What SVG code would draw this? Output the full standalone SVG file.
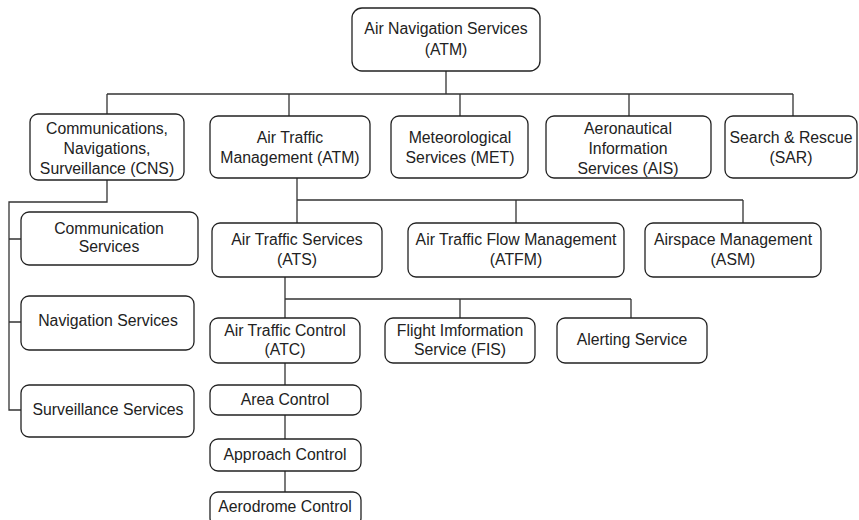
<svg xmlns="http://www.w3.org/2000/svg" width="859" height="520" viewBox="0 0 859 520">
<style>
.box{fill:#fff;stroke:#222;stroke-width:1.3}
.t{font-family:"Liberation Sans",Arial,sans-serif;font-size:15.8px;fill:#222;text-anchor:middle}
.c{fill:none;stroke:#333;stroke-width:1.3}
</style>
<rect width="859" height="520" fill="#fff"/>
<g id="connectors">
<path class="c" d="M446 71V94M107 94H793M107 94V114M289 94V116M460 94V116M629 94V116M793 94V116"/>
<path class="c" d="M107 180V202H9V410H21M9 239H21M9 322H21"/>
<path class="c" d="M297 178V200M297 200H743M297 200V223M516 200V223M743 200V223"/>
<path class="c" d="M285 277V299H631M285 299V318M460 299V318M631 299V318"/>
<path class="c" d="M285 363V385M285 415V439M285 471V492"/>
</g>
<g id="ans"><rect class="box" x="352" y="8" width="188" height="63" rx="10"/><text class="t" x="446" y="34">Air Navigation Services</text><text class="t" x="446" y="55">(ATM)</text></g>
<g id="cns"><rect class="box" x="30" y="114" width="154" height="66" rx="8"/><text class="t" x="107" y="134">Communications,</text><text class="t" x="107" y="154">Navigations,</text><text class="t" x="107" y="174">Surveillance (CNS)</text></g>
<g id="atm"><rect class="box" x="210" y="116" width="160" height="62" rx="8"/><text class="t" x="290" y="143">Air Traffic</text><text class="t" x="290" y="163">Management (ATM)</text></g>
<g id="met"><rect class="box" x="391" y="116" width="137" height="62" rx="8"/><text class="t" x="460" y="143">Meteorological</text><text class="t" x="460" y="163">Services (MET)</text></g>
<g id="ais"><rect class="box" x="546" y="116" width="165" height="62" rx="8"/><text class="t" x="628" y="134">Aeronautical</text><text class="t" x="628" y="154">Information</text><text class="t" x="628" y="174">Services (AIS)</text></g>
<g id="sar"><rect class="box" x="725" y="116" width="132" height="62" rx="8"/><text class="t" x="791" y="143">Search &amp; Rescue</text><text class="t" x="791" y="163">(SAR)</text></g>
<g id="comm"><rect class="box" x="21" y="212" width="177" height="53" rx="8"/><text class="t" x="109" y="234">Communication</text><text class="t" x="109" y="252">Services</text></g>
<g id="nav"><rect class="box" x="21" y="296" width="173" height="54" rx="8"/><text class="t" x="108" y="326">Navigation Services</text></g>
<g id="surv"><rect class="box" x="21" y="385" width="173" height="52" rx="8"/><text class="t" x="108" y="415">Surveillance Services</text></g>
<g id="ats"><rect class="box" x="212" y="223" width="170" height="54" rx="8"/><text class="t" x="297" y="245">Air Traffic Services</text><text class="t" x="297" y="265">(ATS)</text></g>
<g id="atfm"><rect class="box" x="408" y="223" width="216" height="54" rx="8"/><text class="t" x="516" y="245">Air Traffic Flow Management</text><text class="t" x="516" y="265">(ATFM)</text></g>
<g id="asm"><rect class="box" x="645" y="223" width="176" height="54" rx="8"/><text class="t" x="733" y="245">Airspace Management</text><text class="t" x="733" y="265">(ASM)</text></g>
<g id="atc"><rect class="box" x="210" y="318" width="150" height="45" rx="8"/><text class="t" x="285" y="336">Air Traffic Control</text><text class="t" x="285" y="355">(ATC)</text></g>
<g id="fis"><rect class="box" x="385" y="318" width="150" height="45" rx="8"/><text class="t" x="460" y="336">Flight Imformation</text><text class="t" x="460" y="355">Service (FIS)</text></g>
<g id="alert"><rect class="box" x="557" y="318" width="150" height="45" rx="8"/><text class="t" x="632" y="345">Alerting Service</text></g>
<g id="area"><rect class="box" x="210" y="385" width="151" height="30" rx="8"/><text class="t" x="285" y="405">Area Control</text></g>
<g id="approach"><rect class="box" x="210" y="439" width="151" height="32" rx="8"/><text class="t" x="285" y="460">Approach Control</text></g>
<g id="aerodrome"><rect class="box" x="210" y="492" width="151" height="34" rx="8"/><text class="t" x="285" y="512">Aerodrome Control</text></g>
</svg>
